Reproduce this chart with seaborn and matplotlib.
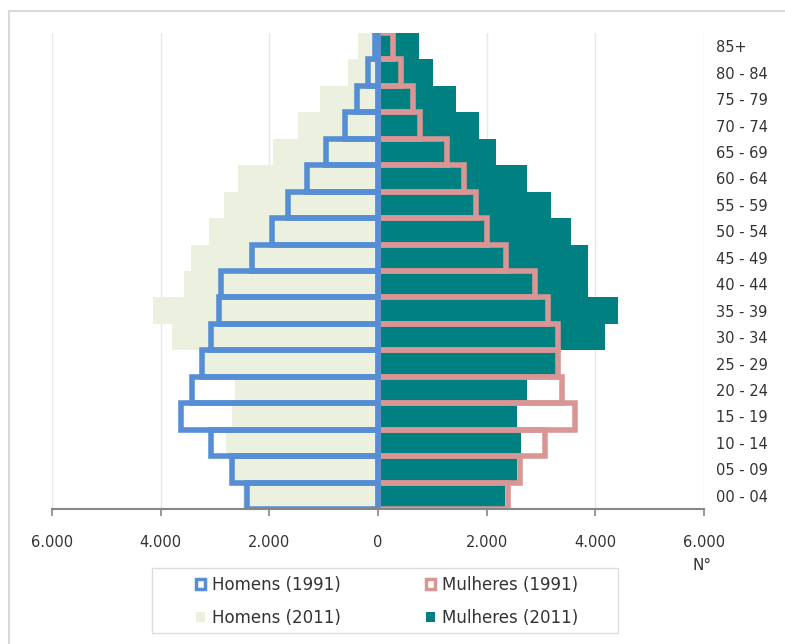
import matplotlib
matplotlib.use("Agg")
import matplotlib.pyplot as plt
import seaborn as sns
import pandas as pd
from matplotlib.patches import Patch, Rectangle
from matplotlib.lines import Line2D
from matplotlib.ticker import FuncFormatter

plt.rcParams['font.family'] = ['DejaVu Sans']

ages = ['85+', '80 - 84', '75 - 79', '70 - 74', '65 - 69', '60 - 64', '55 - 59',
        '50 - 54', '45 - 49', '40 - 44', '35 - 39', '30 - 34', '25 - 29',
        '20 - 24', '15 - 19', '10 - 14', '05 - 09', '00 - 04']
homens_2011 = [370, 560, 1060, 1480, 1940, 2570, 2830, 3110, 3440, 3570, 4140,
               3800, 3220, 2630, 2680, 2790, 2680, 2490]
homens_1991 = [60, 175, 380, 615, 955, 1305, 1655, 1960, 2320, 2890, 2930,
               3080, 3235, 3425, 3620, 3070, 2690, 2415]
mulheres_2011 = [750, 1010, 1440, 1860, 2180, 2750, 3175, 3560, 3870, 3865, 4410,
                 4175, 3280, 2750, 2560, 2640, 2560, 2330]
mulheres_1991 = [270, 420, 650, 770, 1270, 1580, 1805, 2005, 2350, 2890, 3120,
                 3305, 3305, 3390, 3620, 3070, 2615, 2385]
series_labels = ['Homens (1991)', 'Homens (2011)', 'Mulheres (1991)', 'Mulheres (2011)']
x_ticks = [-6000, -4000, -2000, 0, 2000, 4000, 6000]

BLUE = '#558ED5'
GREEN = '#EBF1DE'
PINK = '#D99694'
TEAL = '#008080'
GRAY = '#868686'
TXT = '#333333'

df_h11 = pd.DataFrame({'age': ages, 'v': [-v for v in homens_2011]})
df_h91 = pd.DataFrame({'age': ages, 'v': [-v for v in homens_1991]})
df_m11 = pd.DataFrame({'age': ages, 'v': mulheres_2011})
df_m91 = pd.DataFrame({'age': ages, 'v': mulheres_1991})

W, H = 785, 644
fig = plt.figure(figsize=(W / 100, H / 100), dpi=100)
ax = fig.add_axes([52 / W, (H - 509) / H, (704 - 52) / W, (509 - 33) / H])

common = dict(x='v', y='age', order=ages, orient='h', width=1.0,
              errorbar=None, saturation=1, ax=ax)
sns.barplot(data=df_h11, color=GREEN, linewidth=0, **common)
sns.barplot(data=df_m11, color=TEAL, linewidth=0, **common)
ax.axvline(0, color=GRAY, lw=1.2, zorder=0.9)
sns.barplot(data=df_m91, color=PINK, fill=False, linewidth=4, **common)
sns.barplot(data=df_h91, color=BLUE, fill=False, linewidth=4, **common)

ax.set_xlim(-6000, 6000)
ax.set_ylim(len(ages) - 0.5, -0.5)
ax.set_xticks(x_ticks)
ax.xaxis.set_major_formatter(FuncFormatter(lambda v, p: f"{abs(int(v)):,}".replace(',', '.')))
ax.grid(axis='x', color='#E8E8E8', lw=1)
ax.grid(axis='y', visible=False)
ax.set_axisbelow(True)
ax.set_xlabel('')
ax.set_ylabel('')

for s in ['top', 'left', 'right']:
    ax.spines[s].set_visible(False)
ax.spines['bottom'].set_color(GRAY)
ax.spines['bottom'].set_linewidth(1.5)
ax.tick_params(axis='x', direction='out', length=5, width=1.2, color=GRAY,
               labelsize=10.5, labelcolor=TXT, pad=14)
ax.yaxis.tick_right()
ax.tick_params(axis='y', length=0, labelsize=10.5, labelcolor=TXT, pad=8.5)
for lbl in ax.get_yticklabels():
    lbl.set_horizontalalignment('left')

fig.text(701.7 / W, 1 - 565 / H, 'N°', ha='center', va='center',
         fontsize=11, color=TXT)

handles = [Patch(facecolor='white', edgecolor=BLUE, lw=2.5),
           Patch(facecolor=GREEN, edgecolor='none'),
           Patch(facecolor='white', edgecolor=PINK, lw=2.5),
           Patch(facecolor=TEAL, edgecolor='none')]
leg = ax.legend(handles, series_labels, ncol=2, loc='center',
                bbox_to_anchor=(387 / W, 1 - 601.5 / H), bbox_transform=fig.transFigure,
                frameon=False, fontsize=12, handlelength=0.55, handleheight=0.55,
                handletextpad=0.42, columnspacing=5.1, labelspacing=0.93, borderpad=0)
for t in leg.get_texts():
    t.set_color(TXT)

fig.add_artist(Rectangle((152 / W, 1 - 633 / H), 466 / W, 65 / H, fill=False,
                         edgecolor='#DDDDDD', lw=1, transform=fig.transFigure))
fig.add_artist(Line2D([9 / W, 9 / W], [0, 1 - 11 / H], color='#D9D9D9', lw=1.5,
                      transform=fig.transFigure))
fig.add_artist(Line2D([9 / W, 1], [1 - 11 / H, 1 - 11 / H], color='#D9D9D9', lw=1.5,
                      transform=fig.transFigure))

fig.savefig('out.png', dpi=100)
